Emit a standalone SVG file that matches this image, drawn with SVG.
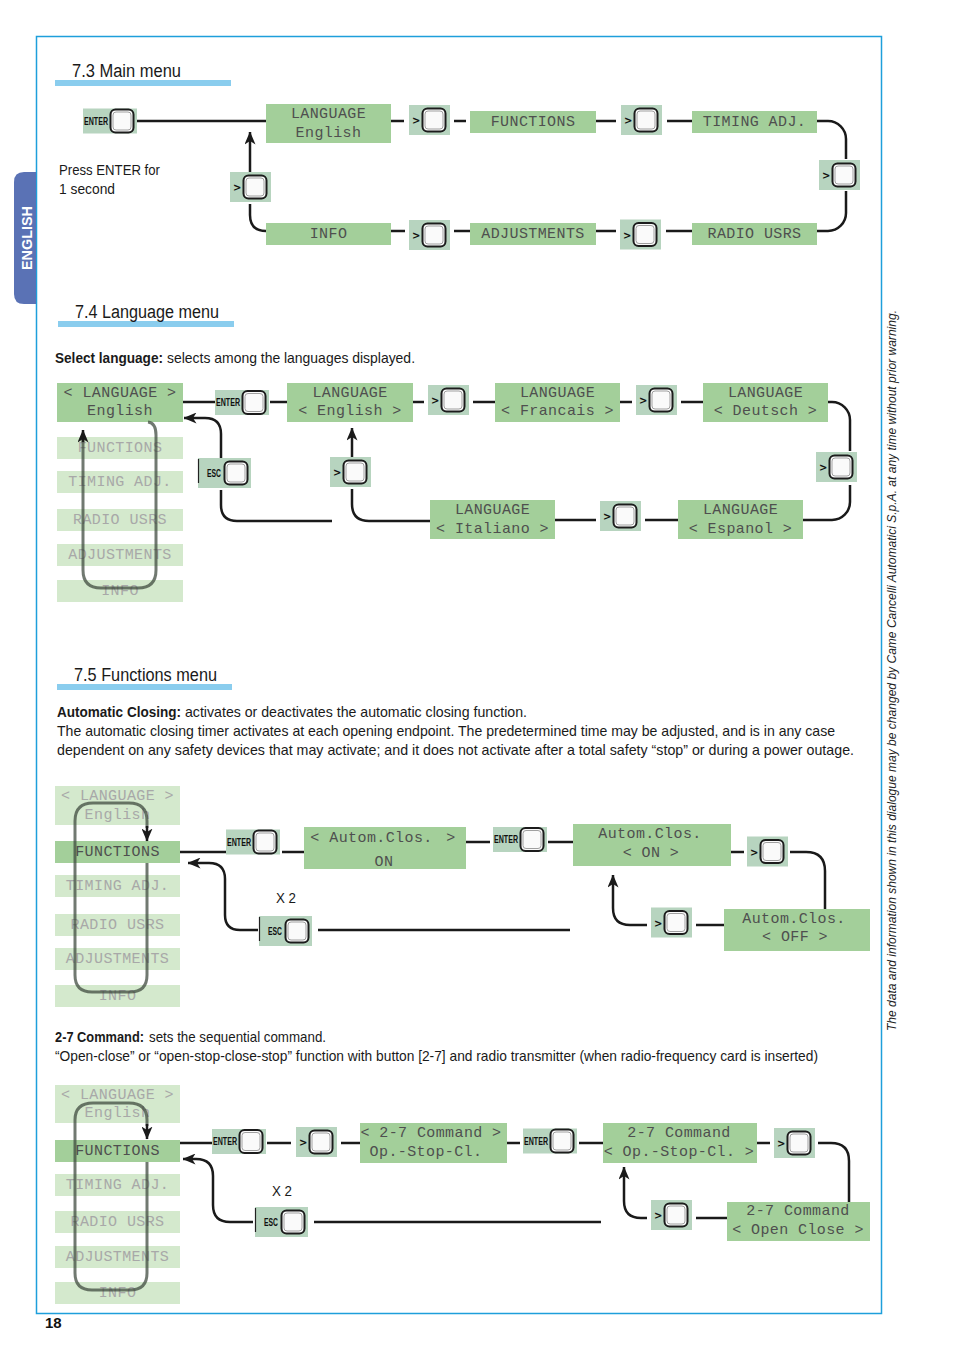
<svg xmlns="http://www.w3.org/2000/svg" xmlns:xlink="http://www.w3.org/1999/xlink" width="954" height="1351" viewBox="0 0 954 1351">
<style>
.g{fill:#a3cf9a}
.f{fill:#d4e9cd}
.bb{fill:#b7d4bf}
.lcd{font-family:"Liberation Mono","DejaVu Sans Mono",monospace;font-size:15px;fill:#4f4f4f;letter-spacing:0.4px;text-anchor:middle}
.lf{fill:#a8a8a8}
.c{fill:none;stroke:#1a1a1a;stroke-width:2.5}
.loop{fill:none;stroke:#3a453a;stroke-opacity:.72;stroke-width:3}
.body{font-family:"Liberation Sans Narrow","Liberation Sans",Arial,sans-serif;font-size:15px;fill:#1a1a1a}
.bd{font-weight:bold}
.hd{font-family:"Liberation Sans Narrow","Liberation Sans",Arial,sans-serif;font-size:18px;fill:#1a1a1a}
.bar{fill:#8acdee}
.lbl{font-family:"Liberation Sans Narrow","Liberation Sans",Arial,sans-serif;font-weight:bold;font-size:10px;fill:#111}
.gt{font-family:"DejaVu Sans",sans-serif;font-weight:bold;font-size:10px;fill:#111}
</style>
<defs>
<g id="sq"><rect x="0.5" y="0.5" width="23" height="23" rx="5" fill="#fafafa" stroke="#1c1c1c" stroke-width="2"/><rect x="3" y="3" width="18" height="18" rx="3" fill="none" stroke="#a0a0a0" stroke-width="1"/></g>
<g id="bgt"><rect class="bb" width="41" height="30"/><text class="gt" x="3" y="19">&gt;</text><use xlink:href="#sq" x="13" y="3"/></g>
<g id="bent"><rect class="bb" width="54" height="25"/><text class="lbl" x="1" y="16" textLength="24" lengthAdjust="spacingAndGlyphs">ENTER</text><use xlink:href="#sq" x="27" y="0.5"/></g>
<g id="besc"><rect class="bb" width="53" height="30"/><line x1="0.5" y1="1" x2="0.5" y2="25" stroke="#222" stroke-width="1.2"/><text class="lbl" x="9" y="19" textLength="14" lengthAdjust="spacingAndGlyphs">ESC</text><use xlink:href="#sq" x="26" y="3"/></g>
<marker id="ah" viewBox="0 0 13 11" refX="12.5" refY="5.5" markerWidth="13" markerHeight="11" markerUnits="userSpaceOnUse" orient="auto"><path d="M0,0 L13,5.5 L0,11 L3.5,5.5 z" fill="#1a1a1a"/></marker>
</defs>
<rect width="954" height="1351" fill="#fff"/>
<!-- page frame -->
<rect x="36.5" y="36.5" width="845" height="1277" fill="none" stroke="#1e9fdb" stroke-width="1.5"/>
<g id="tab">
<path d="M36,172 H24 Q14,172 14,182 V294 Q14,304 24,304 H36 Z" fill="#5a72b5"/>
<text transform="translate(32,270) rotate(-90)" font-family="Liberation Sans Narrow,Liberation Sans,sans-serif" font-weight="bold" font-size="15" fill="#fff" textLength="64" lengthAdjust="spacingAndGlyphs">ENGLISH</text>
</g>
<text transform="translate(896,1031) rotate(-90)" font-family="Liberation Sans Narrow,Liberation Sans,sans-serif" font-style="italic" font-size="12.5" fill="#222" textLength="721" lengthAdjust="spacingAndGlyphs">The data and information shown in this dialogue may be changed by Came Cancelli Automatici S.p.A. at any time without prior warning.</text>
<text x="45" y="1328" font-family="Liberation Sans Narrow,Liberation Sans,sans-serif" font-weight="bold" font-size="15" fill="#111">18</text>

<!-- headings and texts -->
<rect class="bar" x="55" y="80" width="176" height="6"/>
<text class="hd" x="72" y="77" textLength="109" lengthAdjust="spacingAndGlyphs">7.3 Main menu</text>
<rect class="bar" x="58" y="321" width="176" height="6"/>
<text class="hd" x="75" y="318" textLength="144" lengthAdjust="spacingAndGlyphs">7.4 Language menu</text>
<rect class="bar" x="57" y="684" width="175" height="6"/>
<text class="hd" x="74" y="681" textLength="143" lengthAdjust="spacingAndGlyphs">7.5 Functions menu</text>

<text class="body" x="59" y="175" textLength="101" lengthAdjust="spacingAndGlyphs">Press ENTER for</text>
<text class="body" x="59" y="194" textLength="56" lengthAdjust="spacingAndGlyphs">1 second</text>
<text class="body bd" x="55" y="363" textLength="108" lengthAdjust="spacingAndGlyphs">Select language:</text>
<text class="body" x="167" y="363" textLength="248" lengthAdjust="spacingAndGlyphs">selects among the languages displayed.</text>
<text class="body bd" x="57" y="717" textLength="124" lengthAdjust="spacingAndGlyphs">Automatic Closing:</text>
<text class="body" x="185" y="717" textLength="342" lengthAdjust="spacingAndGlyphs">activates or deactivates the automatic closing function.</text>
<text class="body" x="57" y="736" textLength="778" lengthAdjust="spacingAndGlyphs">The automatic closing timer activates at each opening endpoint. The predetermined time may be adjusted, and is in any case</text>
<text class="body" x="57" y="755" textLength="797" lengthAdjust="spacingAndGlyphs">dependent on any safety devices that may activate; and it does not activate after a total safety “stop” or during a power outage.</text>
<text class="body bd" x="55" y="1042" textLength="89" lengthAdjust="spacingAndGlyphs">2-7 Command:</text>
<text class="body" x="149" y="1042" textLength="177" lengthAdjust="spacingAndGlyphs">sets the sequential command.</text>
<text class="body" x="55" y="1061" textLength="763" lengthAdjust="spacingAndGlyphs">“Open-close” or “open-stop-close-stop” function with button [2-7] and radio transmitter (when radio-frequency card is inserted)</text>
<text class="body" x="276" y="903" textLength="20" lengthAdjust="spacingAndGlyphs">X 2</text>
<text class="body" x="272" y="1196" textLength="20" lengthAdjust="spacingAndGlyphs">X 2</text>

<!-- MAIN MENU nodes -->
<g id="m_enter"><use xlink:href="#bent" x="83" y="108.5"/></g>
<g id="m_lang"><rect class="g" x="266" y="104" width="125" height="39"/><text class="lcd" x="328.5" y="118">LANGUAGE</text><text class="lcd" x="328.5" y="137">English</text></g>
<g id="m_b1"><use xlink:href="#bgt" x="409" y="105"/></g>
<g id="m_func"><rect class="g" x="470" y="111" width="126" height="22"/><text class="lcd" x="533" y="126">FUNCTIONS</text></g>
<g id="m_b2"><use xlink:href="#bgt" x="621" y="105"/></g>
<g id="m_timing"><rect class="g" x="692" y="111" width="125" height="22"/><text class="lcd" x="754.5" y="126">TIMING ADJ.</text></g>
<g id="m_b3"><use xlink:href="#bgt" x="819" y="160"/></g>
<g id="m_radio"><rect class="g" x="692" y="223" width="125" height="22"/><text class="lcd" x="754.5" y="238">RADIO USRS</text></g>
<g id="m_b4"><use xlink:href="#bgt" x="620" y="219.5"/></g>
<g id="m_adj"><rect class="g" x="470" y="223" width="126" height="22"/><text class="lcd" x="533" y="238">ADJUSTMENTS</text></g>
<g id="m_b5"><use xlink:href="#bgt" x="409" y="220"/></g>
<g id="m_info"><rect class="g" x="266" y="223" width="125" height="22"/><text class="lcd" x="328.5" y="238">INFO</text></g>
<g id="m_b6"><use xlink:href="#bgt" x="230" y="172"/></g>

<!-- LANGUAGE MENU nodes -->
<g id="l_sel"><rect class="g" x="57" y="383" width="126" height="39"/><text class="lcd" x="120" y="397">&lt; LANGUAGE &gt;</text><text class="lcd" x="120" y="415">English</text></g>
<g id="l_f1"><rect class="f" x="57" y="437" width="126" height="22"/><text class="lcd lf" x="120" y="452">FUNCTIONS</text></g>
<g id="l_f2"><rect class="f" x="57" y="471" width="126" height="22"/><text class="lcd lf" x="120" y="486">TIMING ADJ.</text></g>
<g id="l_f3"><rect class="f" x="57" y="509" width="126" height="22"/><text class="lcd lf" x="120" y="524">RADIO USRS</text></g>
<g id="l_f4"><rect class="f" x="57" y="544" width="126" height="22"/><text class="lcd lf" x="120" y="559">ADJUSTMENTS</text></g>
<g id="l_f5"><rect class="f" x="57" y="580" width="126" height="22"/><text class="lcd lf" x="120" y="595">INFO</text></g>
<g id="l_enter"><use xlink:href="#bent" x="215" y="390"/></g>
<g id="l_en"><rect class="g" x="287" y="383" width="126" height="39"/><text class="lcd" x="350" y="397">LANGUAGE</text><text class="lcd" x="350" y="415">&lt; English &gt;</text></g>
<g id="l_b1"><use xlink:href="#bgt" x="428" y="385"/></g>
<g id="l_fr"><rect class="g" x="495" y="383" width="125" height="39"/><text class="lcd" x="557.5" y="397">LANGUAGE</text><text class="lcd" x="557.5" y="415">&lt; Francais &gt;</text></g>
<g id="l_b2"><use xlink:href="#bgt" x="636" y="385"/></g>
<g id="l_de"><rect class="g" x="703" y="383" width="125" height="39"/><text class="lcd" x="765.5" y="397">LANGUAGE</text><text class="lcd" x="765.5" y="415">&lt; Deutsch &gt;</text></g>
<g id="l_b3"><use xlink:href="#bgt" x="816" y="452"/></g>
<g id="l_es"><rect class="g" x="678" y="500" width="125" height="39"/><text class="lcd" x="740.5" y="514">LANGUAGE</text><text class="lcd" x="740.5" y="533">&lt; Espanol &gt;</text></g>
<g id="l_b4"><use xlink:href="#bgt" x="600" y="501"/></g>
<g id="l_it"><rect class="g" x="430" y="500" width="125" height="39"/><text class="lcd" x="492.5" y="514">LANGUAGE</text><text class="lcd" x="492.5" y="533">&lt; Italiano &gt;</text></g>
<g id="l_b5"><use xlink:href="#bgt" x="330" y="457"/></g>
<g id="l_esc"><use xlink:href="#besc" x="198" y="458"/></g>

<!-- FUNCTIONS MENU nodes -->
<g id="f_lang"><rect class="f" x="55" y="786" width="125" height="39"/><text class="lcd lf" x="117.5" y="800">&lt; LANGUAGE &gt;</text><text class="lcd lf" x="117.5" y="819">English</text></g>
<g id="f_func"><rect class="g" x="55" y="841" width="125" height="22"/><text class="lcd" x="117.5" y="856">FUNCTIONS</text></g>
<g id="f_timing"><rect class="f" x="55" y="875" width="125" height="22"/><text class="lcd lf" x="117.5" y="890">TIMING ADJ.</text></g>
<g id="f_radio"><rect class="f" x="55" y="914" width="125" height="22"/><text class="lcd lf" x="117.5" y="929">RADIO USRS</text></g>
<g id="f_adj"><rect class="f" x="55" y="948" width="125" height="22"/><text class="lcd lf" x="117.5" y="963">ADJUSTMENTS</text></g>
<g id="f_info"><rect class="f" x="55" y="985" width="125" height="22"/><text class="lcd lf" x="117.5" y="1000">INFO</text></g>
<g id="f_enter1"><use xlink:href="#bent" x="226" y="829.5"/></g>
<g id="f_on"><rect class="g" x="304" y="827" width="162" height="42"/><text class="lcd" x="315" y="842">&lt;</text><text class="lcd" x="381" y="842">Autom.Clos.</text><text class="lcd" x="451" y="842">&gt;</text><text class="lcd" x="384" y="866">ON</text></g>
<g id="f_enter2"><use xlink:href="#bent" x="493" y="827"/></g>
<g id="f_on2"><rect class="g" x="573" y="824" width="158" height="42"/><text class="lcd" x="650" y="838">Autom.Clos.</text><text class="lcd" x="651" y="857">&lt; ON &gt;</text></g>
<g id="f_b1"><use xlink:href="#bgt" x="747" y="836.5"/></g>
<g id="f_off"><rect class="g" x="724" y="909" width="146" height="42"/><text class="lcd" x="794" y="923">Autom.Clos.</text><text class="lcd" x="795" y="941">&lt; OFF &gt;</text></g>
<g id="f_b2"><use xlink:href="#bgt" x="651" y="907.5"/></g>
<g id="f_esc"><use xlink:href="#besc" x="259" y="916"/></g>

<!-- 2-7 COMMAND nodes -->
<g id="c_lang"><rect class="f" x="55" y="1085" width="125" height="38"/><text class="lcd lf" x="117.5" y="1099">&lt; LANGUAGE &gt;</text><text class="lcd lf" x="117.5" y="1117">English</text></g>
<g id="c_func"><rect class="g" x="55" y="1140" width="125" height="22"/><text class="lcd" x="117.5" y="1155">FUNCTIONS</text></g>
<g id="c_timing"><rect class="f" x="55" y="1174" width="125" height="22"/><text class="lcd lf" x="117.5" y="1189">TIMING ADJ.</text></g>
<g id="c_radio"><rect class="f" x="55" y="1211" width="125" height="22"/><text class="lcd lf" x="117.5" y="1226">RADIO USRS</text></g>
<g id="c_adj"><rect class="f" x="55" y="1246" width="125" height="22"/><text class="lcd lf" x="117.5" y="1261">ADJUSTMENTS</text></g>
<g id="c_info"><rect class="f" x="55" y="1282" width="125" height="22"/><text class="lcd lf" x="117.5" y="1297">INFO</text></g>
<g id="c_enter1"><use xlink:href="#bent" x="212" y="1129"/></g>
<g id="c_b1"><use xlink:href="#bgt" x="296" y="1127"/></g>
<g id="c_cmd1"><rect class="g" x="360" y="1123" width="147" height="40"/><text class="lcd" x="431" y="1137">&lt; 2-7 Command &gt;</text><text class="lcd" x="426" y="1156">Op.-Stop-Cl.</text></g>
<g id="c_enter2"><use xlink:href="#bent" x="523" y="1128.5"/></g>
<g id="c_cmd2"><rect class="g" x="603" y="1123" width="154" height="40"/><text class="lcd" x="679" y="1137">2-7 Command</text><text class="lcd" x="679" y="1156">&lt; Op.-Stop-Cl. &gt;</text></g>
<g id="c_b2"><use xlink:href="#bgt" x="774" y="1128"/></g>
<g id="c_cmd3"><rect class="g" x="727" y="1202" width="143" height="39"/><text class="lcd" x="798" y="1215">2-7 Command</text><text class="lcd" x="798" y="1234">&lt; Open Close &gt;</text></g>
<g id="c_b3"><use xlink:href="#bgt" x="651" y="1200"/></g>
<g id="c_esc"><use xlink:href="#besc" x="255" y="1207"/></g>

<!-- CONNECTORS -->
<g id="connectors">
<path class="c" d="M137,121 H266"/>
<path class="c" d="M391,121 H404"/>
<path class="c" d="M454,121 H466"/>
<path class="c" d="M596,121 H616"/>
<path class="c" d="M667,121 H692"/>
<path class="c" d="M817,121 H828 A18,18 0 0 1 846,139 V159"/>
<path class="c" d="M846,191 V213 A18,18 0 0 1 828,231 H817"/>
<path class="c" d="M692,231 H666"/>
<path class="c" d="M616,231 H596"/>
<path class="c" d="M470,231 H454"/>
<path class="c" d="M405,231 H391"/>
<path class="c" d="M266,231 Q250,231 250,215 V204"/>
<path class="c" d="M250,172 V132" marker-end="url(#ah)"/>

<path class="c" d="M183,402 H215"/>
<path class="c" d="M270,402 H287"/>
<path class="c" d="M413,402 H424"/>
<path class="c" d="M473,402 H495"/>
<path class="c" d="M620,402 H632"/>
<path class="c" d="M681,402 H703"/>
<path class="c" d="M828,402 H832 A18,18 0 0 1 850,420 V451"/>
<path class="c" d="M850,485 V502 A18,18 0 0 1 832,520 H803"/>
<path class="c" d="M678,520 H645"/>
<path class="c" d="M596,520 H555"/>
<path class="c" d="M430,521 H369 Q352,521 352,504 V489"/>
<path class="c" d="M352,457 V428" marker-end="url(#ah)"/>
<path class="c" d="M332,521 H237 Q221,521 221,505 V490"/>
<path class="c" d="M221,458 V434 Q221,418 205,418 H184" marker-end="url(#ah)"/>
<path class="loop" d="M148,422 Q156,423 156,435 V570 Q156,588 138,588 H101 Q83,588 83,570 V440"/>
<path class="c" d="M83,442 V430" marker-end="url(#ah)"/>

<path class="c" d="M180,852 H226"/>
<path class="c" d="M282,852 H304"/>
<path class="c" d="M466,842 H490"/>
<path class="c" d="M548,842 H573"/>
<path class="c" d="M731,852 H744"/>
<path class="c" d="M790,852 H806 Q825,852 825,871 V909"/>
<path class="c" d="M724,925 H696"/>
<path class="c" d="M647,925 H630 Q613,925 613,908 V875" marker-end="url(#ah)"/>
<path class="c" d="M570,930 H318"/>
<path class="c" d="M258,930 H240 Q225,930 225,915 V879 Q225,863 209,863 H188" marker-end="url(#ah)"/>
<path class="loop" d="M147,863 V975 Q147,992 130,992 H92 Q75,992 75,975 V821 Q75,803 93,803 H129 Q147,803 147,821 V828"/>
<path class="c" d="M147,826 V841" marker-end="url(#ah)"/>

<path class="c" d="M180,1143 H212"/>
<path class="c" d="M267,1143 H291"/>
<path class="c" d="M341,1143 H360"/>
<path class="c" d="M507,1143 H520"/>
<path class="c" d="M579,1143 H603"/>
<path class="c" d="M757,1143 H770"/>
<path class="c" d="M818,1143 H831 Q849,1143 849,1161 V1202"/>
<path class="c" d="M727,1218 H696"/>
<path class="c" d="M647,1218 H641 Q624,1218 624,1201 V1167" marker-end="url(#ah)"/>
<path class="c" d="M601,1222 H314"/>
<path class="c" d="M253,1222 H230 Q213,1222 213,1205 V1176 Q213,1159 196,1159 H183" marker-end="url(#ah)"/>
<path class="loop" d="M147,1162 V1273 Q147,1290 130,1290 H92 Q75,1290 75,1273 V1120 Q75,1103 93,1103 H129 Q147,1103 147,1120 V1126"/>
<path class="c" d="M147,1124 V1139" marker-end="url(#ah)"/>
</g>
</svg>
